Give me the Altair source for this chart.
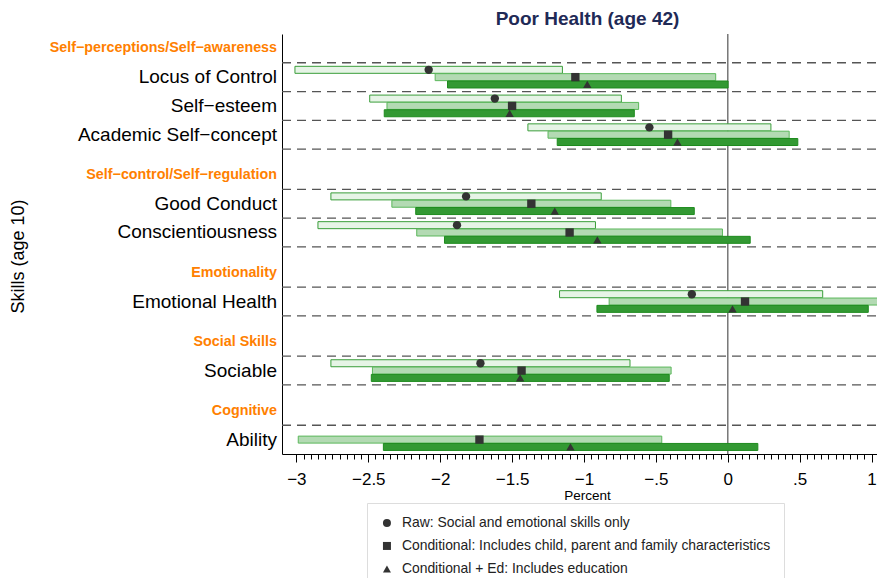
import altair as alt
import pandas as pd

# ---------------- data ----------------
groups = ["Self−perceptions/Self−awareness", "Self−control/Self−regulation",
          "Emotionality", "Social Skills", "Cognitive"]
group_items = [["Locus of Control", "Self−esteem", "Academic Self−concept"],
               ["Good Conduct", "Conscientiousness"],
               ["Emotional Health"],
               ["Sociable"],
               ["Ability"]]

models = ["Raw: Social and emotional skills only",
          "Conditional: Includes child, parent and family characteristics",
          "Conditional + Ed: Includes education"]

# order: LoC, Self-esteem, Academic, Good Conduct, Conscientiousness, Emotional Health, Sociable, Ability
raw_est = [-2.08, -1.62, -0.545, -1.82, -1.883, -0.25, -1.72, None]
raw_lo = [-3.01, -2.49, -1.39, -2.76, -2.85, -1.17, -2.76, None]
raw_hi = [-1.15, -0.74, 0.30, -0.88, -0.92, 0.66, -0.68, None]
cond_est = [-1.06, -1.50, -0.415, -1.366, -1.10, 0.12, -1.434, -1.727]
cond_lo = [-2.035, -2.37, -1.25, -2.336, -2.163, -0.825, -2.471, -2.987]
cond_hi = [-0.084, -0.62, 0.427, -0.396, -0.037, 1.064, -0.394, -0.459]
ed_est = [-0.977, -1.517, -0.35, -1.203, -0.907, 0.033, -1.444, -1.094]
ed_lo = [-1.949, -2.389, -1.186, -2.17, -1.97, -0.91, -2.479, -2.395]
ed_hi = [0.002, -0.65, 0.487, -0.233, 0.156, 0.977, -0.407, 0.209]

major_vals = [-3, -2.5, -2, -1.5, -1, -0.5, 0, 0.5, 1]
major_labels = ["−3", "−2.5", "−2", "−1.5", "−1", "−.5", "0", ".5", "1"]

bar_fill = ["#e6f4e6", "#b3dab3", "#339933"]
bar_stroke = ["#3a9e3a", "#5cb85c", "#1e8b1e"]

# ---------------- layout (row positions) ----------------
labels_rows = []
item_pos = []
p = 0.5
for gi, g in enumerate(groups):
    if gi > 0:
        p += 1.4
    labels_rows.append({"label": g, "pos": p, "kind": "header"})
    for it in group_items[gi]:
        p += 1
        labels_rows.append({"label": it, "pos": p, "kind": "item"})
        item_pos.append(p)
y_max = 14.6

lines = sorted(set([round(v - 0.5, 2) for v in item_pos] + [round(v + 0.5, 2) for v in item_pos]))
lines = [v for v in lines if v < y_max - 0.01]

offsets = [-0.255, 0.0, 0.255]
series = [(raw_est, raw_lo, raw_hi), (cond_est, cond_lo, cond_hi), (ed_est, ed_lo, ed_hi)]
rows = []
for mi, (est, lo, hi) in enumerate(series):
    for i, yp in enumerate(item_pos):
        if est[i] is None:
            continue
        rows.append({"model": models[mi], "m": mi, "y": yp + offsets[mi],
                     "est": est[i], "lo": lo[i], "hi": hi[i]})
df = pd.DataFrame(rows)
lab_df = pd.DataFrame(labels_rows)
line_df = pd.DataFrame({"y": lines})

W, H = 595, 420
PX_PER_UNIT = 143.8
X_MIN = -3.1
X_MAX = X_MIN + W / PX_PER_UNIT
FONT = "Liberation Sans"

tick_vals = [round(-3 + 0.05 * i, 2) for i in range(0, 81)]
expr = "''"
for v, l in zip(reversed(major_vals), reversed(major_labels)):
    expr = f"round(datum.value*100) == {int(round(v * 100))} ? '{l}' : ({expr})"

xscale = alt.Scale(domain=[X_MIN, X_MAX], nice=False, zero=False, padding=0)
yscale = alt.Scale(domain=[0, y_max], reverse=True, nice=False, zero=False, padding=0)

xaxis = alt.Axis(values=tick_vals, labelExpr=expr, labelOverlap=False,
                 tickSize={"condition": {"test": "abs(round(datum.value*100)) % 50 == 0", "value": 8}, "value": 5},
                 tickColor="black", domainColor="black", tickWidth=1, grid=False,
                 labelFontSize=17, labelFont=FONT, labelColor="black", labelPadding=9,
                 title="Percent", titleFontSize=13.5, titleFont=FONT, titleFontWeight="normal",
                 titleColor="black", titlePadding=1, titleX=305, labelBound=False, labelFlush=False)
yaxis = alt.Axis(labels=False, ticks=False, grid=False, domainColor="black",
                 title="Skills (age 10)", titleFontSize=18, titleFont=FONT, titleFontWeight="normal",
                 titleColor="black", titleX=-255, titleY=222)

base = alt.Chart(df)

gridlines = alt.Chart(line_df).mark_rule(color="#555555", strokeWidth=1.3, strokeDash=[9, 6]).encode(
    y=alt.Y("y:Q", scale=yscale, axis=yaxis),
    x=alt.value(0), x2=alt.value(W))

zero_line = alt.Chart(pd.DataFrame({"x": [0]})).mark_rule(color="#777777", strokeWidth=1.5).encode(
    x=alt.X("x:Q", scale=xscale, axis=xaxis))

bar_layers = []
for mi in range(3):
    bar_layers.append(
        base.transform_filter(alt.datum.m == mi).mark_bar(
            size=7, strokeWidth=1, fill=bar_fill[mi], stroke=bar_stroke[mi], opacity=1).encode(
            x=alt.X("lo:Q", scale=xscale, axis=xaxis),
            x2="hi:Q",
            y=alt.Y("y:Q", scale=yscale, axis=yaxis))
    )

points = base.mark_point(filled=True, color="#333333", opacity=1, strokeWidth=0, size=70).encode(
    x=alt.X("est:Q", scale=xscale, axis=xaxis),
    y=alt.Y("y:Q", scale=yscale, axis=yaxis),
    shape=alt.Shape("model:N", scale=alt.Scale(domain=models, range=["circle", "square", "triangle-up"]),
                    legend=alt.Legend(orient="none", legendX=85, legendY=469, title=None, direction="vertical",
                                      strokeColor="#dddddd", fillColor="white", padding=13,
                                      labelFontSize=13.9, labelFont=FONT, labelColor="#222222",
                                      symbolSize=64, symbolFillColor="#333333", symbolStrokeColor="#333333",
                                      symbolStrokeWidth=0, rowPadding=8, labelLimit=600, labelOffset=8)),
)

item_text = alt.Chart(lab_df[lab_df.kind == "item"]).mark_text(
    align="right", baseline="middle", fontSize=19, font=FONT, color="black").encode(
    x=alt.value(-5), y=alt.Y("pos:Q", scale=yscale, axis=yaxis), text="label:N")

head_text = alt.Chart(lab_df[lab_df.kind == "header"]).mark_text(
    align="right", baseline="middle", fontSize=14.3, font=FONT, fontWeight="bold", color="#ff8000").encode(
    x=alt.value(-5), y=alt.Y("pos:Q", scale=yscale, axis=yaxis), text="label:N")

chart = alt.layer(gridlines, zero_line, *bar_layers, points, item_text, head_text).properties(
    width=W, height=H,
    title=alt.TitleParams("Poor Health (age 42)", fontSize=19, fontWeight="bold", color="#1f2a56",
                          font=FONT, frame="group", anchor="middle", offset=4, dx=8),
    padding={"left": 274, "top": 26, "right": 0, "bottom": 124},
    autosize=alt.AutoSizeParams(type="none"),
).configure_view(stroke=None)

chart.save("out.html", embed_options={"renderer": "svg", "actions": False})
